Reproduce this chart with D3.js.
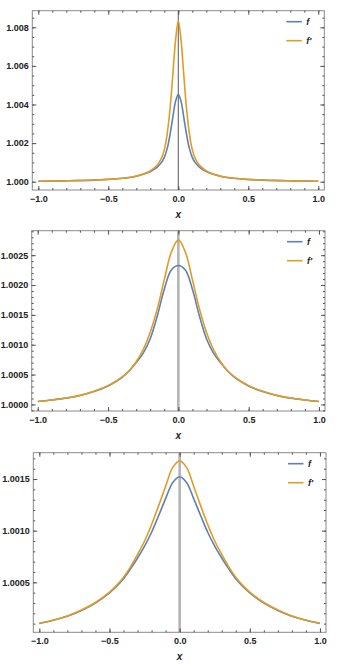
<!DOCTYPE html>
<html>
<head>
<meta charset="utf-8">
<script src="https://cdn.jsdelivr.net/npm/d3@7"></script>
<style>
  body { margin: 0; background: #fff; }
  svg text { font-family: "Liberation Sans", Arial, sans-serif; font-weight: bold; font-size: 9px; fill: #222; }
</style>
</head>
<body>
<svg id="chart" width="362" height="669"></svg>
<script>
// ---- DATA ----

// panel 1 : sharp peak
var xs1 = [-1, -0.8, -0.6, -0.45, -0.35, -0.3, -0.25, -0.2, -0.15, -0.12, -0.1, -0.08, -0.06, -0.04, -0.02, 0,
           0.02, 0.04, 0.06, 0.08, 0.1, 0.12, 0.15, 0.2, 0.25, 0.3, 0.35, 0.45, 0.6, 0.8, 1];
var f1  = [1.00002, 1.000044, 1.000083, 1.00014, 1.000215, 1.000285, 1.00039, 1.00053, 1.00076, 1.001, 1.00126, 1.0017, 1.0024, 1.0033, 1.00415, 1.00453,
           1.00415, 1.0033, 1.0024, 1.0017, 1.00126, 1.001, 1.00076, 1.00053, 1.00039, 1.000285, 1.000215, 1.00014, 1.000083, 1.000044, 1.00002];
var fp1 = [1.00002, 1.000045, 1.000085, 1.000145, 1.00022, 1.00029, 1.0004, 1.00056, 1.00086, 1.00122, 1.00165, 1.00245, 1.0037, 1.00545, 1.0073, 1.00834,
           1.0073, 1.00545, 1.0037, 1.00245, 1.00165, 1.00122, 1.00086, 1.00056, 1.0004, 1.00029, 1.00022, 1.000145, 1.000085, 1.000045, 1.00002];

// panel 2
var xs2 = [-1, -0.9, -0.8, -0.7, -0.6, -0.5, -0.45, -0.4, -0.35, -0.3, -0.25, -0.2, -0.15, -0.1, -0.05, 0,
           0.05, 0.1, 0.15, 0.2, 0.25, 0.3, 0.35, 0.4, 0.45, 0.5, 0.6, 0.7, 0.8, 0.9, 1];
var f2  = [1.00005, 1.000075, 1.000105, 1.00015, 1.000215, 1.00031, 1.000375, 1.000455, 1.00056, 1.0007, 1.00086, 1.0011, 1.00148, 1.00193, 1.00225, 1.002327,
           1.00225, 1.00193, 1.00148, 1.0011, 1.00086, 1.0007, 1.00056, 1.000455, 1.000375, 1.00031, 1.000215, 1.00015, 1.000105, 1.000075, 1.00005];
var fp2 = [1.00005, 1.000075, 1.000107, 1.000152, 1.00022, 1.000315, 1.00038, 1.00046, 1.000565, 1.000715, 1.00092, 1.00121, 1.0016, 1.00209, 1.00255, 1.002756,
           1.00255, 1.00209, 1.0016, 1.00121, 1.00092, 1.000715, 1.000565, 1.00046, 1.00038, 1.000315, 1.00022, 1.000152, 1.000107, 1.000075, 1.00005];

// panel 3
var xs3 = xs2;
var f3  = [1.000102, 1.000133, 1.000172, 1.000228, 1.0003, 1.000398, 1.00046, 1.000535, 1.00063, 1.000735, 1.00085, 1.000985, 1.001145, 1.00131, 1.001465, 1.001522,
           1.001465, 1.00131, 1.001145, 1.000985, 1.00085, 1.000735, 1.00063, 1.000535, 1.00046, 1.000398, 1.0003, 1.000228, 1.000172, 1.000133, 1.000102];
var fp3 = [1.000103, 1.000135, 1.000175, 1.000232, 1.000305, 1.000405, 1.00047, 1.00055, 1.00065, 1.00077, 1.0009, 1.00106, 1.00124, 1.00143, 1.00161, 1.001677,
           1.00161, 1.00143, 1.00124, 1.00106, 1.0009, 1.00077, 1.00065, 1.00055, 1.00047, 1.000405, 1.000305, 1.000232, 1.000175, 1.000135, 1.000103];

// ticks
var xTicks  = [-1, -0.5, 0, 0.5, 1];
var yTicks1 = [1.000, 1.002, 1.004, 1.006, 1.008];
var yTicks2 = [1.0000, 1.0005, 1.0010, 1.0015, 1.0020, 1.0025];
var yTicks3 = [1.0005, 1.0010, 1.0015];

var seriesNames = ["f", "f\u2032"];
var BLUE = "#5e81b5", ORANGE = "#e19c24";

var svg = d3.select("#chart");

// frame boxes and plot ranges of each panel
var panels = [
  { left: 32.3, right: 324.3, top: 10.7, bottom: 190, xDomain: [-1.043, 1.043], yDomain: [0.99957, 1.00886],
    xs: xs1, f: f1, fp: fp1, yTicks: yTicks1, yMinor: 0.0005, fmt: ".3f", zeroColor: "#666", zeroWidth: 1.1 },
  { left: 31.7, right: 325, top: 230.7, bottom: 411, xDomain: [-1.043, 1.043], yDomain: [0.99989, 1.00291],
    xs: xs2, f: f2, fp: fp2, yTicks: yTicks2, yMinor: 0.0001, fmt: ".4f", zeroColor: "#b4b4b4", zeroWidth: 2.6 },
  { left: 33.3, right: 326, top: 452.7, bottom: 632.3, xDomain: [-1.043, 1.043], yDomain: [1.000016, 1.001755],
    xs: xs3, f: f3, fp: fp3, yTicks: yTicks3, yMinor: 0.0001, fmt: ".4f", zeroColor: "#b4b4b4", zeroWidth: 2.6 }
];

function minorTicks(domain, step) {
  var lo = Math.ceil(domain[0] / step - 1e-6), hi = Math.floor(domain[1] / step + 1e-6);
  return d3.range(lo, hi + 1).map(function(i) { return i * step; });
}

function drawPanel(p) {
  var g = svg.append("g");
  var x = d3.scaleLinear().domain(p.xDomain).range([p.left, p.right]);
  var y = d3.scaleLinear().domain(p.yDomain).range([p.bottom, p.top]);
  var w = p.right - p.left, h = p.bottom - p.top;

  // vertical line at x = 0
  g.append("line")
    .attr("x1", x(0)).attr("x2", x(0))
    .attr("y1", p.top).attr("y2", p.bottom)
    .attr("stroke", p.zeroColor).attr("stroke-width", p.zeroWidth);

  var line = d3.line()
    .x(function(d) { return x(d[0]); })
    .y(function(d) { return y(d[1]); })
    .curve(d3.curveCatmullRom.alpha(0.5));

  g.append("path").datum(d3.zip(p.xs, p.f))
    .attr("d", line).attr("fill", "none")
    .attr("stroke", BLUE).attr("stroke-width", 1.6);
  g.append("path").datum(d3.zip(p.xs, p.fp))
    .attr("d", line).attr("fill", "none")
    .attr("stroke", ORANGE).attr("stroke-width", 1.6);

  // frame
  g.append("rect")
    .attr("x", p.left).attr("y", p.top).attr("width", w).attr("height", h)
    .attr("fill", "none").attr("stroke", "#8a8a8a").attr("stroke-width", 1);

  var xMinor = d3.range(-10, 11).map(function(i) { return i / 10; });
  var yMinor = minorTicks(p.yDomain, p.yMinor);

  // inward ticks on all four sides
  function axis(maker, pos, values, size, labels) {
    var a = maker.tickValues(values).tickSize(-size);
    if (labels) a.tickFormat(labels); else a.tickFormat("");
    var ag = g.append("g").attr("transform", pos).call(a);
    ag.select(".domain").remove();
    ag.selectAll("line").attr("stroke", "#555");
    return ag;
  }

  axis(d3.axisBottom(x), "translate(0," + p.bottom + ")", xMinor, 2);
  axis(d3.axisTop(x), "translate(0," + p.top + ")", xMinor, 2);
  axis(d3.axisLeft(y), "translate(" + p.left + ",0)", yMinor, 2);
  axis(d3.axisRight(y), "translate(" + p.right + ",0)", yMinor, 2);

  var bx = axis(d3.axisBottom(x).tickPadding(5.2), "translate(0," + p.bottom + ")", xTicks, 4, d3.format(".1f"));
  axis(d3.axisTop(x), "translate(0," + p.top + ")", xTicks, 4);
  var ly = axis(d3.axisLeft(y).tickPadding(3.5), "translate(" + p.left + ",0)", p.yTicks, 4, d3.format(p.fmt));
  axis(d3.axisRight(y), "translate(" + p.right + ",0)", p.yTicks, 4);
  bx.selectAll("text").attr("fill", "#222");
  ly.selectAll("text").attr("fill", "#222");

  // x axis label
  g.append("text")
    .attr("x", x(0)).attr("y", p.bottom + 27.5)
    .attr("text-anchor", "middle")
    .style("font-style", "italic").style("font-size", "10px")
    .text("x");

  // legend
  var colors = [BLUE, ORANGE];
  seriesNames.forEach(function(name, i) {
    var ly0 = p.top + 11 + i * 19;
    g.append("line")
      .attr("x1", p.right - 38).attr("x2", p.right - 22.5)
      .attr("y1", ly0).attr("y2", ly0)
      .attr("stroke", colors[i]).attr("stroke-width", 1.6);
    g.append("text")
      .attr("x", p.right - 18).attr("y", ly0 + 3.2)
      .style("font-style", "italic")
      .text(name);
  });
}

panels.forEach(drawPanel);
</script>
</body>
</html>
